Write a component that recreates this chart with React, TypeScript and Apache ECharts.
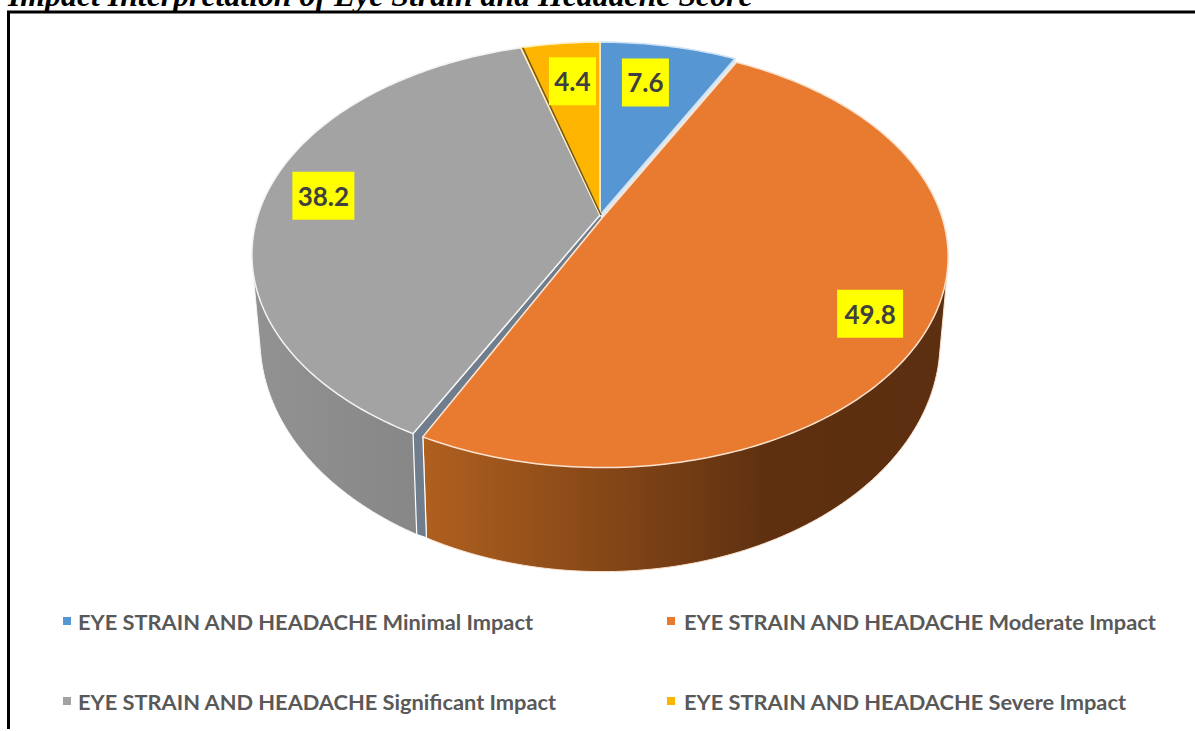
import React, { useEffect, useRef } from "react";
import * as echarts from "echarts";

const TITLE = "Impact Interpretation of Eye Strain and Headache Score";
const CATEGORIES = [
  "EYE STRAIN AND HEADACHE Minimal Impact",
  "EYE STRAIN AND HEADACHE Moderate Impact",
  "EYE STRAIN AND HEADACHE Significant Impact",
  "EYE STRAIN AND HEADACHE Severe Impact",
];
const VALUES = [7.6, 49.8, 38.2, 4.4];
const COLORS = ["#5596D3", "#E97B30", "#A3A3A3", "#FDB500"];
const RIMS = ["#cfe2f3", "#fbe3d0", "#f4f4f4", "#fff0c0"];
const WALL_STOPS = [
  ["#3f719f", "#3f719f", "#3f719f"],
  ["#b0601f", "#5e3010", "#5c2f10"],
  ["#929292", "#868686", "#7d7d7d"],
  ["#b38600", "#b38600", "#b38600"],
];
const WALL_ORDER = [2, 3, 0, 1];

// perspective model of the disc (a circle seen from above)
const CX = 600;
const TOP = { cy: 215, a: 342, b: 205, k: 0.186 };
const BASE = { cy: 295, a: 333.8, b: 223.6, k: 0.19 };
const RIM_SCALE = [1, 0.993, 1, 1];
const EXPLODE = [
  [0, 0],
  [2.5, 2.5],
  [0, 0],
  [0, 0],
];
const TRIM_START = [0, 0, 0.5, 0];
const TRIM_END = [0, -0.5, 0, 0];
const LABEL_R = [0.75, 0.85, 0.8, 0.75];
const LABEL_NUDGE = [
  [-8, -1],
  [-7, 14],
  [-8, -4],
  [3.5, 0],
];
const LABEL_W = [47, 66, 62, 47];
const LABEL_H = 48;
const FONT = 'Lato, "Liberation Sans", sans-serif';

const total = VALUES.reduce((s, v) => s + v, 0);
const startAngle = (i: number) =>
  (VALUES.slice(0, i).reduce((s, v) => s + v, 0) / total) * 360;

function project(deg: number, r: number, i: number, wall = false): number[] {
  const t = (deg * Math.PI) / 180;
  const x = r * Math.sin(t);
  const y = -r * Math.cos(t);
  const m = wall ? BASE : TOP;
  const w = 1 - m.k * y;
  const s = RIM_SCALE[i];
  return [CX + (s * m.a * x) / w + EXPLODE[i][0], m.cy + (s * m.b * y) / w + EXPLODE[i][1]];
}

function arc(i: number, wall = false): number[][] {
  const a0 = startAngle(i) + TRIM_START[i];
  const a1 = startAngle(i) + (VALUES[i] / total) * 360 + TRIM_END[i];
  const n = Math.max(4, Math.ceil(a1 - a0));
  const pts: number[][] = [];
  for (let j = 0; j <= n; j++) pts.push(project(a0 + ((a1 - a0) * j) / n, 1, i, wall));
  return pts;
}

function hull(points: number[][]): number[][] {
  const pts = [...points].sort((p, q) => p[0] - q[0] || p[1] - q[1]);
  const cross = (o: number[], a: number[], b: number[]) =>
    (a[0] - o[0]) * (b[1] - o[1]) - (a[1] - o[1]) * (b[0] - o[0]);
  const half = (list: number[][]) => {
    const out: number[][] = [];
    for (const p of list) {
      while (out.length >= 2 && cross(out[out.length - 2], out[out.length - 1], p) <= 0) out.pop();
      out.push(p);
    }
    out.pop();
    return out;
  };
  return [...half(pts), ...half([...pts].reverse())];
}

function renderWall(params: any) {
  const i = WALL_ORDER[params.dataIndex];
  return {
    type: "polygon",
    shape: { points: hull([...arc(i), ...arc(i, true)]) },
    style: {
      fill: new echarts.graphic.LinearGradient(0, 0, 1, 0, [
        { offset: 0, color: WALL_STOPS[i][0] },
        { offset: 0.66, color: WALL_STOPS[i][1] },
        { offset: 1, color: WALL_STOPS[i][2] },
      ]),
      stroke: RIMS[i],
      lineWidth: 1,
    },
  };
}

function renderGap() {
  // cut faces around the pulled-out moderate slice
  const lower = startAngle(2);
  const upper = startAngle(1);
  const grayEdge = lower + TRIM_START[2];
  const orangeEdge = lower + TRIM_END[1];
  const cut = {
    type: "polygon",
    shape: {
      points: [
        project(grayEdge, 0, 2),
        project(grayEdge, 1, 2),
        project(grayEdge, 1, 2, true),
        project(orangeEdge, 1, 1, true),
        project(orangeEdge, 1, 1),
        project(orangeEdge, 0, 1),
      ],
    },
    style: { fill: "#6f7d8c", stroke: "#ffffff", lineWidth: 1.2 },
  };
  const seam = {
    type: "polygon",
    shape: {
      points: [project(upper, 0, 0), project(upper, 1, 0), project(upper, 1, 1), project(upper, 0, 1)],
    },
    style: { fill: "#dbe9f5", stroke: "#ffffff", lineWidth: 1 },
  };
  return { type: "group", children: [cut, seam] };
}

function makeFaceRenderer(i: number) {
  return function renderFace() {
    const children: any[] = [
      {
        type: "polygon",
        shape: { points: [project(0, 0, i), ...arc(i)] },
        style: { fill: COLORS[i], stroke: RIMS[i], lineWidth: 1.5 },
      },
    ];
    if (i === 3) {
      const a = startAngle(3);
      const c = project(a, 0, 3);
      const e = project(a, 1, 3);
      children.push({
        type: "line",
        shape: { x1: c[0] + 1, y1: c[1], x2: e[0] + 2, y2: e[1] },
        style: { stroke: "#6a5426", lineWidth: 1.5 },
      });
    }
    const mid = startAngle(i) + (VALUES[i] / total) * 180;
    const p = project(mid, LABEL_R[i], i);
    const lx = p[0] + LABEL_NUDGE[i][0] - EXPLODE[i][0];
    const ly = p[1] + LABEL_NUDGE[i][1] - EXPLODE[i][1];
    children.push({
      type: "rect",
      shape: { x: lx - LABEL_W[i] / 2, y: ly - LABEL_H / 2, width: LABEL_W[i], height: LABEL_H },
      style: { fill: "#FFFF00" },
    });
    children.push({
      type: "text",
      x: lx,
      y: ly,
      style: {
        text: String(VALUES[i]),
        fill: "#404040",
        font: `bold 26px ${FONT}`,
        align: "center",
        verticalAlign: "middle",
      },
    });
    return { type: "group", children };
  };
}

export default function App() {
  const ref = useRef<HTMLDivElement>(null);
  useEffect(() => {
    if (!ref.current) return;
    const chart = echarts.init(ref.current, undefined, { renderer: "svg" });
    const legendBase = {
      orient: "vertical",
      top: 610,
      itemWidth: 8,
      itemHeight: 8,
      itemGap: 58,
      icon: "rect",
      selectedMode: false,
      padding: 0,
    };
    const textStyle = (gap: number) => ({
      color: "#595959",
      fontSize: 21.8,
      fontWeight: "bold",
      fontFamily: FONT,
      padding: [0, 0, 0, gap],
    });
    const legendData = (ids: number[]) =>
      ids.map((i) => ({ name: CATEGORIES[i], itemStyle: { color: COLORS[i] } }));
    chart.setOption({
      animation: false,
      backgroundColor: "#ffffff",
      legend: [
        { ...legendBase, left: 63, textStyle: textStyle(2), data: legendData([0, 2]) },
        { ...legendBase, left: 667, textStyle: textStyle(4), data: legendData([1, 3]) },
      ],
      graphic: [
        {
          type: "polyline",
          shape: { points: [[8.5, 729], [8.5, 12], [1195, 12]] },
          style: { stroke: "#000000", lineWidth: 3, fill: "none" },
          z: 10,
        },
        {
          type: "text",
          x: 8,
          y: 11,
          style: {
            text: TITLE,
            fill: "#000000",
            font: 'italic bold 31.8px "Liberation Serif", serif',
            verticalAlign: "bottom",
          },
          z: 11,
        },
      ],
      series: [
        {
          type: "custom",
          name: "walls",
          coordinateSystem: "none",
          silent: true,
          z: 1,
          data: WALL_ORDER.map((i) => VALUES[i]),
          renderItem: renderWall,
        },
        {
          type: "custom",
          name: "gap",
          coordinateSystem: "none",
          silent: true,
          z: 2,
          data: [VALUES[2]],
          renderItem: renderGap,
        },
        ...CATEGORIES.map((name, i) => ({
          type: "custom",
          name,
          coordinateSystem: "none",
          silent: true,
          z: 3,
          itemStyle: { color: COLORS[i] },
          data: [VALUES[i]],
          renderItem: makeFaceRenderer(i),
        })),
      ],
    });
    return () => chart.dispose();
  }, []);
  return (
    <div
      ref={ref}
      style={{ position: "fixed", left: 0, top: 0, width: 1195, height: 731 }}
    />
  );
}
